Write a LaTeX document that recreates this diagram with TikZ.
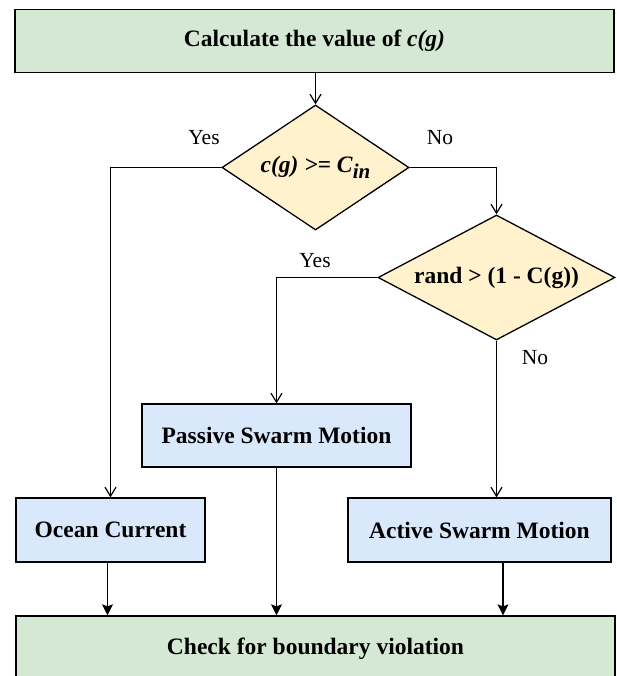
\documentclass[tikz,border=0pt]{standalone}
\usepackage{fontspec}
\setmainfont{Liberation Serif}
\usetikzlibrary{shapes.geometric,arrows.meta}
\definecolor{boxgreen}{HTML}{D5E8D4}
\definecolor{boxblue}{HTML}{DAE8FC}
\definecolor{boxyellow}{HTML}{FFF2CC}
\begin{document}
\begin{tikzpicture}[x=1pt,y=-1pt,
  procbox/.style={draw=black, line width=1.3pt, rectangle, inner sep=0pt,
    font=\fontsize{23.5}{28}\selectfont\bfseries, text=black},
  greenbox/.style={procbox, fill=boxgreen},
  bluebox/.style={procbox, fill=boxblue},
  decision/.style={draw=black, line width=1.3pt, diamond, fill=boxyellow, inner sep=0pt,
    font=\fontsize{23.5}{28}\selectfont\bfseries},
  lbl/.style={font=\fontsize{21.5}{26}\selectfont, inner sep=1pt},
  flow/.style={draw=black, line width=1.2pt, -{Straight Barb[length=9pt,width=11pt]}},
  flowin/.style={draw=black, line width=1.2pt, -{Stealth[length=11pt,width=11pt,inset=2pt]}}
]
\clip (0,0) rectangle (617,676);
\fill[white] (0,0) rectangle (617,676);

\node[greenbox, minimum width=599pt, minimum height=63pt] (top) at (314.5,41) {Calculate the value of \textit{c(g)}};
\node[decision, aspect=1.5, minimum width=187pt, minimum height=125pt] (d1) at (315.5,167.5)
  {\textit{c(g) >= C}\raisebox{-0.28em}{\fontsize{21}{21}\selectfont\bfseries\itshape in}};
\node[decision, aspect=1.9, minimum width=237pt, minimum height=125pt] (d2) at (496.5,277.5) {rand > (1 - C(g))};
\node[bluebox, minimum width=269pt, minimum height=63pt] (passive) at (276.5,435.5) {Passive Swarm Motion};
\node[bluebox, minimum width=189pt, minimum height=64pt] (ocean) at (110.5,530) {Ocean Current};
\node[bluebox, minimum width=263pt, minimum height=64pt] (active) at (479.5,530) {Active Swarm Motion};
\node[greenbox, minimum width=599pt, minimum height=66pt] (bottom) at (315.5,649) {Check for boundary violation};

\node[lbl] (yes1) at (204,138) {Yes};
\node[lbl] (no1) at (440,138) {No};
\node[lbl] (yes2) at (315,261) {Yes};
\node[lbl] (no2) at (535,358) {No};

\draw[flow] (top.south -| d1.north) -- (d1.north);
\draw[flow] (d1.west) -| (ocean.north);
\draw[flow] (d1.east) -| (d2.north);
\draw[flow] (d2.west) -| (passive.north);
\draw[flow] (d2.south) -- (d2.south |- active.north);

\draw[flowin] ([xshift=-3pt]ocean.south) -- ([xshift=-3pt]ocean.south |- bottom.north);
\draw[flowin] (passive.south) -- (passive.south |- bottom.north);
\draw[flowin] ([xshift=23.5pt]active.south) -- ([xshift=23.5pt]active.south |- bottom.north);
\end{tikzpicture}
\end{document}
